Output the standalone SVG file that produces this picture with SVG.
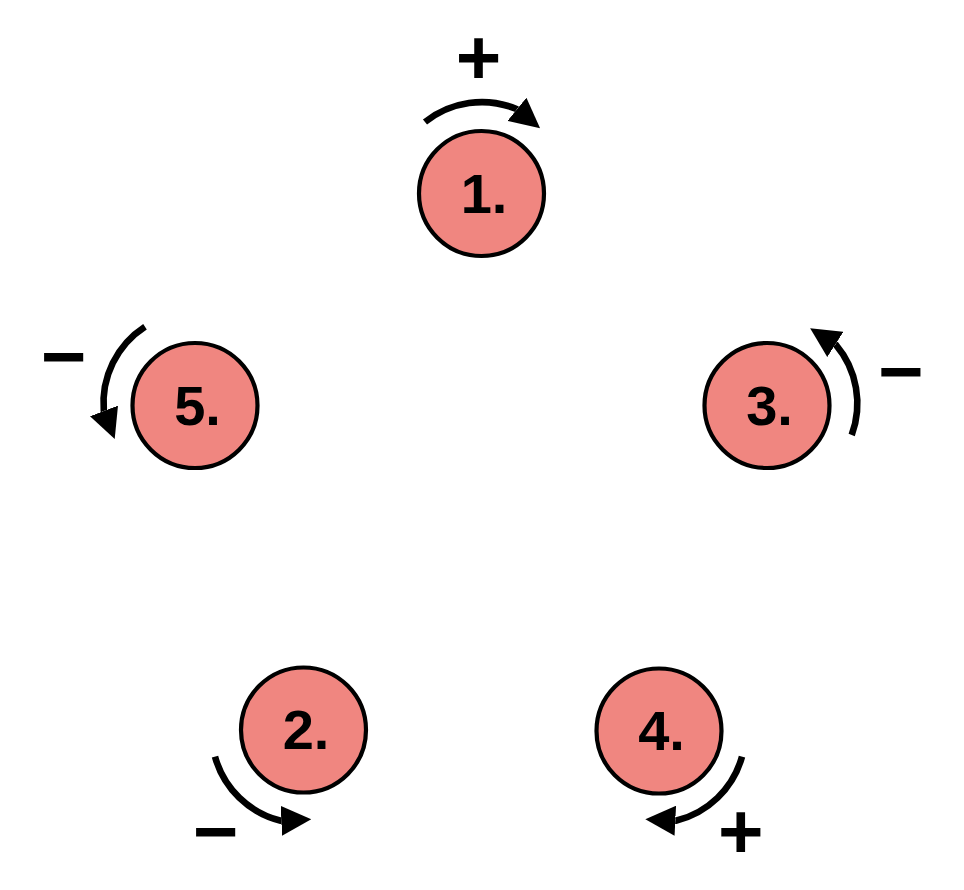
<svg xmlns="http://www.w3.org/2000/svg" width="964" height="890" viewBox="0 0 964 890">
<defs>
<style>
.node circle{fill:#F08680;stroke:#000;stroke-width:4.2}
.node text{font-family:"Liberation Sans",Arial,sans-serif;font-weight:bold;font-size:56px;text-anchor:middle;fill:#000}
.sign{font-family:"Liberation Sans",Arial,sans-serif;font-weight:bold;font-size:78px;text-anchor:middle;fill:#000}
.arc{fill:none;stroke:#000;stroke-width:6.6;marker-end:url(#head)}
</style>
<marker id="head" markerUnits="userSpaceOnUse" viewBox="0 0 30 30" refX="0" refY="15" markerWidth="30" markerHeight="30" orient="auto">
<path d="M0,0 L30,15 L0,30 Z" fill="#000"/>
</marker>
</defs>
<rect width="964" height="890" fill="#fff"/>
<g id="connectors">
<path class="arc" d="M425,122 A91,91 0 0 1 516.5,109 l0.39,0.32"/>
<path class="arc" d="M851.7,435 A91,91 0 0 0 835.8,344.7 l-0.42,-0.27"/>
<path class="arc" d="M145,326.7 A91,91 0 0 0 103.8,410.5 l0.18,0.47"/>
<path class="arc" d="M215,756.7 A91,91 0 0 0 280.8,820.8 l0.5,-0.025"/>
<path class="arc" d="M742,756.7 A91,91 0 0 1 675.8,820.8 l-0.5,-0.025"/>
</g>
<g id="signs">
<text class="sign" x="478.5" y="84">+</text>
<text class="sign" x="901" y="398">−</text>
<text class="sign" x="63.8" y="382.7">−</text>
<text class="sign" x="215.8" y="858">−</text>
<text class="sign" x="740.8" y="857.5">+</text>
</g>
<g id="node1" class="node"><circle cx="481.5" cy="193.5" r="62.5"/><text x="484" y="212.5">1.</text></g>
<g id="node3" class="node"><circle cx="767" cy="405.5" r="62.5"/><text x="769.5" y="424.5">3.</text></g>
<g id="node5" class="node"><circle cx="195" cy="405.5" r="62.5"/><text x="197.5" y="424.5">5.</text></g>
<g id="node2" class="node"><circle cx="303.5" cy="730" r="62.5"/><text x="306" y="749">2.</text></g>
<g id="node4" class="node"><circle cx="659" cy="731" r="62.5"/><text x="661.5" y="750">4.</text></g>
</svg>
